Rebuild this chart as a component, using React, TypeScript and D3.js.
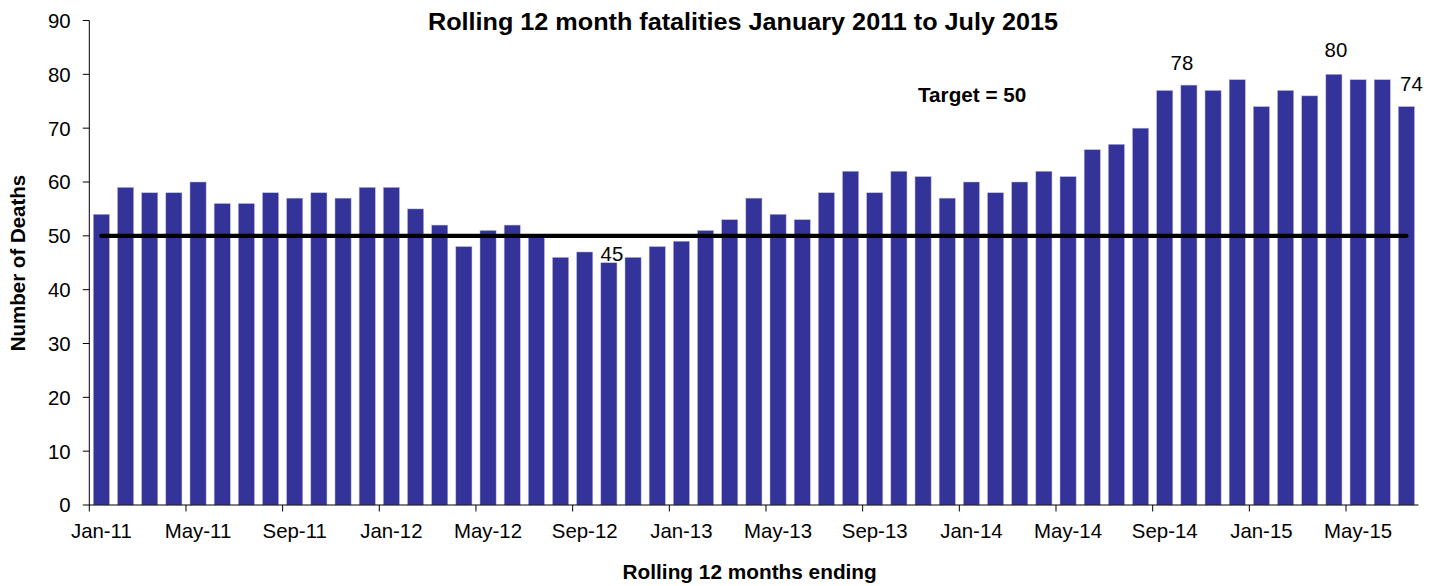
import React, { useEffect } from "react";
import * as d3 from "d3";

const months = [
  "Jan-11","Feb-11","Mar-11","Apr-11","May-11","Jun-11","Jul-11","Aug-11","Sep-11","Oct-11","Nov-11","Dec-11",
  "Jan-12","Feb-12","Mar-12","Apr-12","May-12","Jun-12","Jul-12","Aug-12","Sep-12","Oct-12","Nov-12","Dec-12",
  "Jan-13","Feb-13","Mar-13","Apr-13","May-13","Jun-13","Jul-13","Aug-13","Sep-13","Oct-13","Nov-13","Dec-13",
  "Jan-14","Feb-14","Mar-14","Apr-14","May-14","Jun-14","Jul-14","Aug-14","Sep-14","Oct-14","Nov-14","Dec-14",
  "Jan-15","Feb-15","Mar-15","Apr-15","May-15","Jun-15","Jul-15",
];

const deaths = [
  54, 59, 58, 58, 60, 56, 56, 58, 57, 58, 57, 59,
  59, 55, 52, 48, 51, 52, 50, 46, 47, 45, 46, 48,
  49, 51, 53, 57, 54, 53, 58, 62, 58, 62, 61, 57,
  60, 58, 60, 62, 61, 66, 67, 70, 77, 78, 77, 79,
  74, 77, 76, 80, 79, 79, 74,
];

const tickMonths = ["Jan-11","May-11","Sep-11","Jan-12","May-12","Sep-12","Jan-13","May-13","Sep-13","Jan-14","May-14","Sep-14","Jan-15","May-15"];
const yTicks = [0, 10, 20, 30, 40, 50, 60, 70, 80, 90];
const target = 50;
const labeledMonths = ["Oct-12", "Oct-14", "Apr-15", "Jul-15"];

const titleText = "Rolling 12 month fatalities January 2011 to July 2015";
const xTitle = "Rolling 12 months ending";
const yTitle = "Number of Deaths";
const targetText = "Target = 50";

// label placement offsets (style only)
const labelOffsets: Record<string, [number, number]> = {
  "Oct-12": [3, -2],
  "Oct-14": [-7, -15],
  "Apr-15": [2, -17],
  "Jul-15": [5, -16],
};

const W = 1432;
const H = 586;
const FONT = "'Liberation Sans', Arial, Helvetica, sans-serif";
const BAR = "#333399";

export default function App() {
  useEffect(() => {
    document.body.style.margin = "0";
  }, []);

  const x = d3.scaleBand<string>().domain(months).range([89.3, 1418.5]).paddingInner(0.333).paddingOuter(0.1665);
  const y = d3.scaleLinear().domain([0, 90]).range([505, 20.5]);
  const step = x.step();
  const left = 89.3;
  const bottom = y(0);

  const line = d3.line<number>()
    .x((d) => d)
    .y(() => y(target));

  const lineStart = (x("Jan-11") as number) + x.bandwidth() / 2;
  const lineEnd = (x("Jul-15") as number) + x.bandwidth() / 2;

  return (
    <svg width={W} height={H} style={{ display: "block", background: "#fff" }} fontFamily={FONT}>
      <text x={743} y={30} textAnchor="middle" fontSize={24} fontWeight="bold" textLength={630} lengthAdjust="spacingAndGlyphs">{titleText}</text>

      {/* bars */}
      {deaths.map((v, i) => (
        <rect
          key={months[i]}
          x={x(months[i])}
          y={y(v)}
          width={x.bandwidth()}
          height={bottom - y(v)}
          fill={BAR}
          stroke="#b8b8e0"
          strokeWidth={0.5}
        />
      ))}

      {/* target line */}
      <path d={line([lineStart, lineEnd]) || ""} stroke="#000" strokeWidth={4.3} strokeLinecap="round" fill="none" />

      {/* axes */}
      <line x1={left} x2={left} y1={y(90)} y2={bottom} stroke="#000" strokeWidth={1} />
      <line x1={left} x2={1418.5} y1={bottom} y2={bottom} stroke="#000" strokeWidth={1} />

      {yTicks.map((t) => (
        <g key={t}>
          <line x1={left - 6.5} x2={left} y1={y(t)} y2={y(t)} stroke="#000" strokeWidth={1} />
          <text x={70.7} y={y(t)} dy="0.36em" textAnchor="end" fontSize={20.4}>{t}</text>
        </g>
      ))}

      {tickMonths.map((m) => {
        const bx = (x(m) as number) - (step - x.bandwidth()) / 2;
        return (
          <g key={m}>
            <line x1={bx} x2={bx} y1={bottom} y2={bottom + 6.5} stroke="#000" strokeWidth={1} />
            <text x={bx + step / 2} y={537.8} textAnchor="middle" fontSize={20.4}>{m}</text>
          </g>
        );
      })}

      {/* data labels */}
      {labeledMonths.map((m) => {
        const i = months.indexOf(m);
        const [dx, dy] = labelOffsets[m];
        return (
          <text key={m} x={(x(m) as number) + x.bandwidth() / 2 + dx} y={y(deaths[i]) + dy} textAnchor="middle" fontSize={20.4}>
            {deaths[i]}
          </text>
        );
      })}

      <text x={918} y={101.7} fontSize={20.7} fontWeight="bold">{targetText}</text>

      <text x={749.7} y={579.3} textAnchor="middle" fontSize={20.8} fontWeight="bold">{xTitle}</text>
      <text transform={`translate(24.5,263) rotate(-90)`} textAnchor="middle" fontSize={20.5} fontWeight="bold">{yTitle}</text>
    </svg>
  );
}
